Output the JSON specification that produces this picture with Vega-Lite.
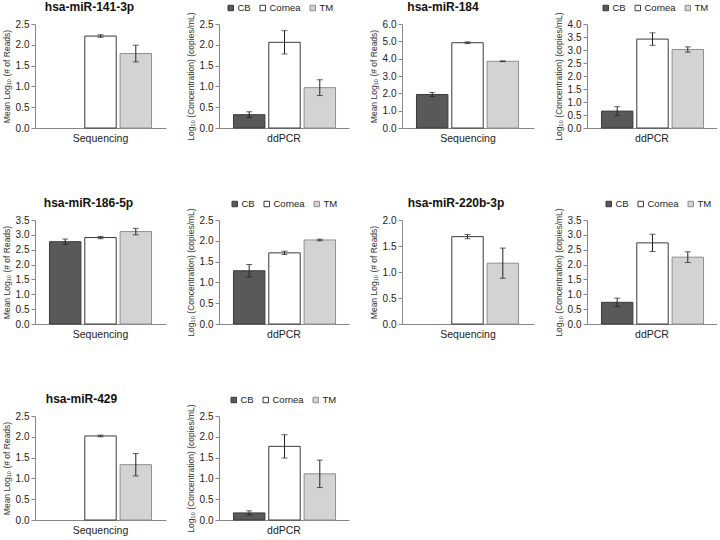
{
  "$schema": "https://vega.github.io/schema/vega-lite/v6.json",
  "padding": {"left": 2, "top": 1, "right": 0, "bottom": 0},
  "background": "white",
  "datasets": {
    "d": [
      {"mirna": "hsa-miR-141-3p", "method": "Sequencing", "tissue": "Cornea", "mean": 2.21, "err": 0.03},
      {"mirna": "hsa-miR-141-3p", "method": "Sequencing", "tissue": "TM", "mean": 1.79, "err": 0.2},
      {"mirna": "hsa-miR-141-3p", "method": "ddPCR", "tissue": "CB", "mean": 0.32, "err": 0.07},
      {"mirna": "hsa-miR-141-3p", "method": "ddPCR", "tissue": "Cornea", "mean": 2.06, "err": 0.28},
      {"mirna": "hsa-miR-141-3p", "method": "ddPCR", "tissue": "TM", "mean": 0.97, "err": 0.19},
      {"mirna": "hsa-miR-184", "method": "Sequencing", "tissue": "CB", "mean": 1.93, "err": 0.12},
      {"mirna": "hsa-miR-184", "method": "Sequencing", "tissue": "Cornea", "mean": 4.92, "err": 0.05},
      {"mirna": "hsa-miR-184", "method": "Sequencing", "tissue": "TM", "mean": 3.85, "err": 0.02},
      {"mirna": "hsa-miR-184", "method": "ddPCR", "tissue": "CB", "mean": 0.65, "err": 0.17},
      {"mirna": "hsa-miR-184", "method": "ddPCR", "tissue": "Cornea", "mean": 3.42, "err": 0.24},
      {"mirna": "hsa-miR-184", "method": "ddPCR", "tissue": "TM", "mean": 3.02, "err": 0.1},
      {"mirna": "hsa-miR-186-5p", "method": "Sequencing", "tissue": "CB", "mean": 2.77, "err": 0.09},
      {"mirna": "hsa-miR-186-5p", "method": "Sequencing", "tissue": "Cornea", "mean": 2.91, "err": 0.04},
      {"mirna": "hsa-miR-186-5p", "method": "Sequencing", "tissue": "TM", "mean": 3.11, "err": 0.11},
      {"mirna": "hsa-miR-186-5p", "method": "ddPCR", "tissue": "CB", "mean": 1.28, "err": 0.15},
      {"mirna": "hsa-miR-186-5p", "method": "ddPCR", "tissue": "Cornea", "mean": 1.71, "err": 0.04},
      {"mirna": "hsa-miR-186-5p", "method": "ddPCR", "tissue": "TM", "mean": 2.02, "err": 0.02},
      {"mirna": "hsa-miR-220b-3p", "method": "Sequencing", "tissue": "Cornea", "mean": 1.68, "err": 0.04},
      {"mirna": "hsa-miR-220b-3p", "method": "Sequencing", "tissue": "TM", "mean": 1.17, "err": 0.29},
      {"mirna": "hsa-miR-220b-3p", "method": "ddPCR", "tissue": "CB", "mean": 0.73, "err": 0.14},
      {"mirna": "hsa-miR-220b-3p", "method": "ddPCR", "tissue": "Cornea", "mean": 2.73, "err": 0.29},
      {"mirna": "hsa-miR-220b-3p", "method": "ddPCR", "tissue": "TM", "mean": 2.25, "err": 0.18},
      {"mirna": "hsa-miR-429", "method": "Sequencing", "tissue": "Cornea", "mean": 2.02, "err": 0.02},
      {"mirna": "hsa-miR-429", "method": "Sequencing", "tissue": "TM", "mean": 1.33, "err": 0.27},
      {"mirna": "hsa-miR-429", "method": "ddPCR", "tissue": "CB", "mean": 0.17, "err": 0.05},
      {"mirna": "hsa-miR-429", "method": "ddPCR", "tissue": "Cornea", "mean": 1.77, "err": 0.28},
      {"mirna": "hsa-miR-429", "method": "ddPCR", "tissue": "TM", "mean": 1.11, "err": 0.33}
    ]
  },
  "columns": 4,
  "align": "each",
  "bounds": "flush",
  "spacing": {"row": 92, "column": 53},
  "resolve": {"legend": {"fill": "independent", "stroke": "independent"}},
  "concat": [
    {
      "width": 131, "height": 104,
      "title": {"text": "hsa-miR-141-3p", "dx": -11},
      "data": {"name": "d"},
      "transform": [{"filter": {"and": [{"field": "mirna", "equal": "hsa-miR-141-3p"}, {"field": "method", "equal": "Sequencing"}]}}],
      "encoding": {
        "x": {"field": "method", "type": "nominal", "title": null, "scale": {"paddingOuter": 0, "paddingInner": 0}},
        "xOffset": {"field": "tissue", "type": "nominal", "scale": {"domain": ["CB", "Cornea", "TM"], "paddingInner": 0.11, "paddingOuter": 0.41}},
        "y": {"field": "mean", "type": "quantitative", "title": "Mean Log₁₀ (# of Reads)", "scale": {"domain": [0, 2.5]}, "axis": {"values": [0, 0.5, 1, 1.5, 2, 2.5]}}
      },
      "layer": [
        {"mark": {"type": "bar", "strokeWidth": 1}, "encoding": {
          "fill": {"field": "tissue", "type": "nominal", "scale": {"domain": ["CB", "Cornea", "TM"], "range": ["#595959", "#ffffff", "#d3d3d3"]}, "legend": null},
          "stroke": {"field": "tissue", "type": "nominal", "scale": {"domain": ["CB", "Cornea", "TM"], "range": ["#3a3a3a", "#3a3a3a", "#8f8f8f"]}, "legend": null}}},
        {"mark": {"type": "errorbar", "ticks": {"size": 6}, "color": "#222"}, "encoding": {"yError": {"field": "err"}}}
      ]
    },
    {
      "width": 130, "height": 104,
      "data": {"name": "d"},
      "transform": [{"filter": {"and": [{"field": "mirna", "equal": "hsa-miR-141-3p"}, {"field": "method", "equal": "ddPCR"}]}}],
      "encoding": {
        "x": {"field": "method", "type": "nominal", "title": null, "scale": {"paddingOuter": 0, "paddingInner": 0}},
        "xOffset": {"field": "tissue", "type": "nominal", "scale": {"domain": ["CB", "Cornea", "TM"], "paddingInner": 0.11, "paddingOuter": 0.41}},
        "y": {"field": "mean", "type": "quantitative", "title": "Log₁₀ (Concentration) (copies/mL)", "scale": {"domain": [0, 2.5]}, "axis": {"values": [0, 0.5, 1, 1.5, 2, 2.5]}}
      },
      "layer": [
        {"mark": {"type": "bar", "strokeWidth": 1}, "encoding": {
          "fill": {"field": "tissue", "type": "nominal", "scale": {"domain": ["CB", "Cornea", "TM"], "range": ["#595959", "#ffffff", "#d3d3d3"]}, "legend": {"orient": "none", "legendX": 7, "legendY": -21, "direction": "horizontal", "title": null}},
          "stroke": {"field": "tissue", "type": "nominal", "scale": {"domain": ["CB", "Cornea", "TM"], "range": ["#3a3a3a", "#3a3a3a", "#8f8f8f"]}, "legend": {"orient": "none", "legendX": 7, "legendY": -21, "direction": "horizontal", "title": null}}}},
        {"mark": {"type": "errorbar", "ticks": {"size": 6}, "color": "#222"}, "encoding": {"yError": {"field": "err"}}}
      ]
    },
    {
      "width": 132, "height": 104,
      "title": {"text": "hsa-miR-184", "dx": -25},
      "data": {"name": "d"},
      "transform": [{"filter": {"and": [{"field": "mirna", "equal": "hsa-miR-184"}, {"field": "method", "equal": "Sequencing"}]}}],
      "encoding": {
        "x": {"field": "method", "type": "nominal", "title": null, "scale": {"paddingOuter": 0, "paddingInner": 0}},
        "xOffset": {"field": "tissue", "type": "nominal", "scale": {"domain": ["CB", "Cornea", "TM"], "paddingInner": 0.11, "paddingOuter": 0.41}},
        "y": {"field": "mean", "type": "quantitative", "title": "Mean Log₁₀ (# of Reads)", "scale": {"domain": [0, 6]}, "axis": {"values": [0, 1, 2, 3, 4, 5, 6]}}
      },
      "layer": [
        {"mark": {"type": "bar", "strokeWidth": 1}, "encoding": {
          "fill": {"field": "tissue", "type": "nominal", "scale": {"domain": ["CB", "Cornea", "TM"], "range": ["#595959", "#ffffff", "#d3d3d3"]}, "legend": null},
          "stroke": {"field": "tissue", "type": "nominal", "scale": {"domain": ["CB", "Cornea", "TM"], "range": ["#3a3a3a", "#3a3a3a", "#8f8f8f"]}, "legend": null}}},
        {"mark": {"type": "errorbar", "ticks": {"size": 6}, "color": "#222"}, "encoding": {"yError": {"field": "err"}}}
      ]
    },
    {
      "width": 130, "height": 104,
      "data": {"name": "d"},
      "transform": [{"filter": {"and": [{"field": "mirna", "equal": "hsa-miR-184"}, {"field": "method", "equal": "ddPCR"}]}}],
      "encoding": {
        "x": {"field": "method", "type": "nominal", "title": null, "scale": {"paddingOuter": 0, "paddingInner": 0}},
        "xOffset": {"field": "tissue", "type": "nominal", "scale": {"domain": ["CB", "Cornea", "TM"], "paddingInner": 0.11, "paddingOuter": 0.41}},
        "y": {"field": "mean", "type": "quantitative", "title": "Log₁₀ (Concentration) (copies/mL)", "scale": {"domain": [0, 4]}, "axis": {"values": [0, 0.5, 1, 1.5, 2, 2.5, 3, 3.5, 4]}}
      },
      "layer": [
        {"mark": {"type": "bar", "strokeWidth": 1}, "encoding": {
          "fill": {"field": "tissue", "type": "nominal", "scale": {"domain": ["CB", "Cornea", "TM"], "range": ["#595959", "#ffffff", "#d3d3d3"]}, "legend": {"orient": "none", "legendX": 14, "legendY": -21, "direction": "horizontal", "title": null}},
          "stroke": {"field": "tissue", "type": "nominal", "scale": {"domain": ["CB", "Cornea", "TM"], "range": ["#3a3a3a", "#3a3a3a", "#8f8f8f"]}, "legend": {"orient": "none", "legendX": 14, "legendY": -21, "direction": "horizontal", "title": null}}}},
        {"mark": {"type": "errorbar", "ticks": {"size": 6}, "color": "#222"}, "encoding": {"yError": {"field": "err"}}}
      ]
    },
    {
      "width": 131, "height": 104,
      "title": {"text": "hsa-miR-186-5p", "dx": -12},
      "data": {"name": "d"},
      "transform": [{"filter": {"and": [{"field": "mirna", "equal": "hsa-miR-186-5p"}, {"field": "method", "equal": "Sequencing"}]}}],
      "encoding": {
        "x": {"field": "method", "type": "nominal", "title": null, "scale": {"paddingOuter": 0, "paddingInner": 0}},
        "xOffset": {"field": "tissue", "type": "nominal", "scale": {"domain": ["CB", "Cornea", "TM"], "paddingInner": 0.11, "paddingOuter": 0.41}},
        "y": {"field": "mean", "type": "quantitative", "title": "Mean Log₁₀ (# of Reads)", "scale": {"domain": [0, 3.5]}, "axis": {"values": [0, 0.5, 1, 1.5, 2, 2.5, 3, 3.5]}}
      },
      "layer": [
        {"mark": {"type": "bar", "strokeWidth": 1}, "encoding": {
          "fill": {"field": "tissue", "type": "nominal", "scale": {"domain": ["CB", "Cornea", "TM"], "range": ["#595959", "#ffffff", "#d3d3d3"]}, "legend": null},
          "stroke": {"field": "tissue", "type": "nominal", "scale": {"domain": ["CB", "Cornea", "TM"], "range": ["#3a3a3a", "#3a3a3a", "#8f8f8f"]}, "legend": null}}},
        {"mark": {"type": "errorbar", "ticks": {"size": 6}, "color": "#222"}, "encoding": {"yError": {"field": "err"}}}
      ]
    },
    {
      "width": 130, "height": 104,
      "data": {"name": "d"},
      "transform": [{"filter": {"and": [{"field": "mirna", "equal": "hsa-miR-186-5p"}, {"field": "method", "equal": "ddPCR"}]}}],
      "encoding": {
        "x": {"field": "method", "type": "nominal", "title": null, "scale": {"paddingOuter": 0, "paddingInner": 0}},
        "xOffset": {"field": "tissue", "type": "nominal", "scale": {"domain": ["CB", "Cornea", "TM"], "paddingInner": 0.11, "paddingOuter": 0.41}},
        "y": {"field": "mean", "type": "quantitative", "title": "Log₁₀ (Concentration) (copies/mL)", "scale": {"domain": [0, 2.5]}, "axis": {"values": [0, 0.5, 1, 1.5, 2, 2.5]}}
      },
      "layer": [
        {"mark": {"type": "bar", "strokeWidth": 1}, "encoding": {
          "fill": {"field": "tissue", "type": "nominal", "scale": {"domain": ["CB", "Cornea", "TM"], "range": ["#595959", "#ffffff", "#d3d3d3"]}, "legend": {"orient": "none", "legendX": 11, "legendY": -21, "direction": "horizontal", "title": null}},
          "stroke": {"field": "tissue", "type": "nominal", "scale": {"domain": ["CB", "Cornea", "TM"], "range": ["#3a3a3a", "#3a3a3a", "#8f8f8f"]}, "legend": {"orient": "none", "legendX": 11, "legendY": -21, "direction": "horizontal", "title": null}}}},
        {"mark": {"type": "errorbar", "ticks": {"size": 6}, "color": "#222"}, "encoding": {"yError": {"field": "err"}}}
      ]
    },
    {
      "width": 132, "height": 104,
      "title": {"text": "hsa-miR-220b-3p", "dx": -12},
      "data": {"name": "d"},
      "transform": [{"filter": {"and": [{"field": "mirna", "equal": "hsa-miR-220b-3p"}, {"field": "method", "equal": "Sequencing"}]}}],
      "encoding": {
        "x": {"field": "method", "type": "nominal", "title": null, "scale": {"paddingOuter": 0, "paddingInner": 0}},
        "xOffset": {"field": "tissue", "type": "nominal", "scale": {"domain": ["CB", "Cornea", "TM"], "paddingInner": 0.11, "paddingOuter": 0.41}},
        "y": {"field": "mean", "type": "quantitative", "title": "Mean Log₁₀ (# of Reads)", "scale": {"domain": [0, 2]}, "axis": {"values": [0, 0.5, 1, 1.5, 2]}}
      },
      "layer": [
        {"mark": {"type": "bar", "strokeWidth": 1}, "encoding": {
          "fill": {"field": "tissue", "type": "nominal", "scale": {"domain": ["CB", "Cornea", "TM"], "range": ["#595959", "#ffffff", "#d3d3d3"]}, "legend": null},
          "stroke": {"field": "tissue", "type": "nominal", "scale": {"domain": ["CB", "Cornea", "TM"], "range": ["#3a3a3a", "#3a3a3a", "#8f8f8f"]}, "legend": null}}},
        {"mark": {"type": "errorbar", "ticks": {"size": 6}, "color": "#222"}, "encoding": {"yError": {"field": "err"}}}
      ]
    },
    {
      "width": 130, "height": 104,
      "data": {"name": "d"},
      "transform": [{"filter": {"and": [{"field": "mirna", "equal": "hsa-miR-220b-3p"}, {"field": "method", "equal": "ddPCR"}]}}],
      "encoding": {
        "x": {"field": "method", "type": "nominal", "title": null, "scale": {"paddingOuter": 0, "paddingInner": 0}},
        "xOffset": {"field": "tissue", "type": "nominal", "scale": {"domain": ["CB", "Cornea", "TM"], "paddingInner": 0.11, "paddingOuter": 0.41}},
        "y": {"field": "mean", "type": "quantitative", "title": "Log₁₀ (Concentration) (copies/mL)", "scale": {"domain": [0, 3.5]}, "axis": {"values": [0, 0.5, 1, 1.5, 2, 2.5, 3, 3.5]}}
      },
      "layer": [
        {"mark": {"type": "bar", "strokeWidth": 1}, "encoding": {
          "fill": {"field": "tissue", "type": "nominal", "scale": {"domain": ["CB", "Cornea", "TM"], "range": ["#595959", "#ffffff", "#d3d3d3"]}, "legend": {"orient": "none", "legendX": 17, "legendY": -21, "direction": "horizontal", "title": null}},
          "stroke": {"field": "tissue", "type": "nominal", "scale": {"domain": ["CB", "Cornea", "TM"], "range": ["#3a3a3a", "#3a3a3a", "#8f8f8f"]}, "legend": {"orient": "none", "legendX": 17, "legendY": -21, "direction": "horizontal", "title": null}}}},
        {"mark": {"type": "errorbar", "ticks": {"size": 6}, "color": "#222"}, "encoding": {"yError": {"field": "err"}}}
      ]
    },
    {
      "width": 131, "height": 104,
      "title": {"text": "hsa-miR-429", "dx": -19},
      "data": {"name": "d"},
      "transform": [{"filter": {"and": [{"field": "mirna", "equal": "hsa-miR-429"}, {"field": "method", "equal": "Sequencing"}]}}],
      "encoding": {
        "x": {"field": "method", "type": "nominal", "title": null, "scale": {"paddingOuter": 0, "paddingInner": 0}},
        "xOffset": {"field": "tissue", "type": "nominal", "scale": {"domain": ["CB", "Cornea", "TM"], "paddingInner": 0.11, "paddingOuter": 0.41}},
        "y": {"field": "mean", "type": "quantitative", "title": "Mean Log₁₀ (# of Reads)", "scale": {"domain": [0, 2.5]}, "axis": {"values": [0, 0.5, 1, 1.5, 2, 2.5]}}
      },
      "layer": [
        {"mark": {"type": "bar", "strokeWidth": 1}, "encoding": {
          "fill": {"field": "tissue", "type": "nominal", "scale": {"domain": ["CB", "Cornea", "TM"], "range": ["#595959", "#ffffff", "#d3d3d3"]}, "legend": null},
          "stroke": {"field": "tissue", "type": "nominal", "scale": {"domain": ["CB", "Cornea", "TM"], "range": ["#3a3a3a", "#3a3a3a", "#8f8f8f"]}, "legend": null}}},
        {"mark": {"type": "errorbar", "ticks": {"size": 6}, "color": "#222"}, "encoding": {"yError": {"field": "err"}}}
      ]
    },
    {
      "width": 130, "height": 104,
      "data": {"name": "d"},
      "transform": [{"filter": {"and": [{"field": "mirna", "equal": "hsa-miR-429"}, {"field": "method", "equal": "ddPCR"}]}}],
      "encoding": {
        "x": {"field": "method", "type": "nominal", "title": null, "scale": {"paddingOuter": 0, "paddingInner": 0}},
        "xOffset": {"field": "tissue", "type": "nominal", "scale": {"domain": ["CB", "Cornea", "TM"], "paddingInner": 0.11, "paddingOuter": 0.41}},
        "y": {"field": "mean", "type": "quantitative", "title": "Log₁₀ (Concentration) (copies/mL)", "scale": {"domain": [0, 2.5]}, "axis": {"values": [0, 0.5, 1, 1.5, 2, 2.5]}}
      },
      "layer": [
        {"mark": {"type": "bar", "strokeWidth": 1}, "encoding": {
          "fill": {"field": "tissue", "type": "nominal", "scale": {"domain": ["CB", "Cornea", "TM"], "range": ["#595959", "#ffffff", "#d3d3d3"]}, "legend": {"orient": "none", "legendX": 10, "legendY": -21, "direction": "horizontal", "title": null}},
          "stroke": {"field": "tissue", "type": "nominal", "scale": {"domain": ["CB", "Cornea", "TM"], "range": ["#3a3a3a", "#3a3a3a", "#8f8f8f"]}, "legend": {"orient": "none", "legendX": 10, "legendY": -21, "direction": "horizontal", "title": null}}}},
        {"mark": {"type": "errorbar", "ticks": {"size": 6}, "color": "#222"}, "encoding": {"yError": {"field": "err"}}}
      ]
    }
  ],
  "config": {
    "font": "Liberation Sans",
    "view": {"stroke": null},
    "axis": {"grid": false, "domainColor": "#868686", "tickColor": "#868686", "labelColor": "#222222", "labelFont": "Liberation Sans", "labelFontSize": 10, "titleFont": "Liberation Sans", "titleFontWeight": "normal", "titleFontSize": 8.5, "titleColor": "#333333"},
    "axisY": {"tickSize": 4, "labelPadding": 2, "titlePadding": 4, "format": ".1f"},
    "axisX": {"ticks": false, "labelAngle": 0, "labelFontSize": 10.5, "labelPadding": 5},
    "title": {"font": "Liberation Sans", "fontSize": 12, "fontWeight": "bold", "color": "#111111", "offset": 5},
    "legend": {"symbolType": "square", "symbolSize": 30, "labelFontSize": 9.5, "labelColor": "#222222", "columnPadding": 7, "gridAlign": "each", "labelOffset": 2, "symbolStrokeWidth": 1}
  }
}
